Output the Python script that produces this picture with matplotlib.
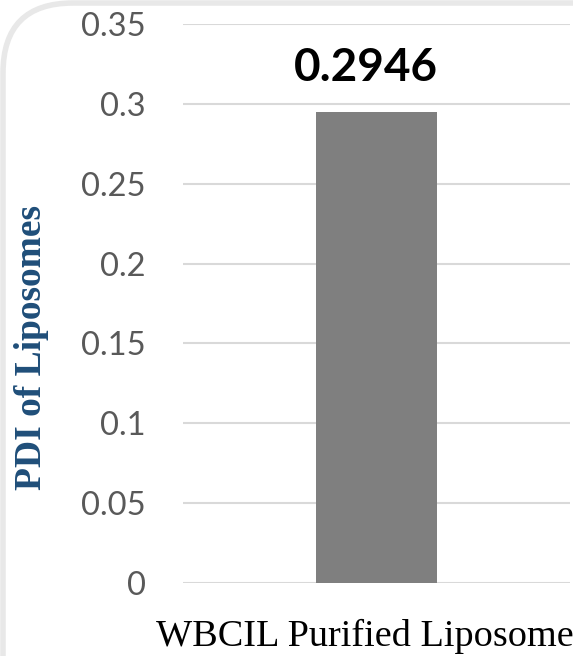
import matplotlib
matplotlib.use("Agg")
import matplotlib.pyplot as plt
import matplotlib.transforms as mtransforms
from matplotlib.patches import FancyBboxPatch

categories = ['WBCIL Purified Liposome']
pdi = [0.2946]
value_labels = ['0.2946']
yticks = [0, 0.05, 0.1, 0.15, 0.2, 0.25, 0.3, 0.35]
ytick_labels = ['0', '0.05', '0.1', '0.15', '0.2', '0.25', '0.3', '0.35']

fig = plt.figure(figsize=(5.73, 6.56), dpi=100)
ax = fig.add_axes([183 / 573, 73 / 656, 387 / 573, 559 / 656])

# rounded chart border (cropped on right / bottom like the screenshot)
frame = FancyBboxPatch((3, -100), 640, 753,
                       boxstyle="round,pad=0,rounding_size=70",
                       transform=mtransforms.IdentityTransform(), lw=4,
                       ec='#e8e8e8', fc='none', zorder=0)
fig.add_artist(frame)

x = list(range(len(categories)))
ax.bar(x, pdi, width=0.315, color='#7f7f7f', zorder=3)

# data label
for xi, v, lab in zip(x, pdi, value_labels):
    ax.annotate(lab, (xi, v), xytext=(-8, 23), textcoords='offset points',
                ha='center', va='baseline', fontsize=33, fontweight='bold',
                family='Lato', color='black')

ax.set_xlim(-0.5, 0.5)
ax.set_ylim(0, 0.35)
ax.set_yticks(yticks)
ax.set_yticklabels(ytick_labels, family='Lato', fontsize=23.5, color='#595959')
ax.set_xticks(x)
ax.set_xticklabels([''] * len(categories))

# category labels (drawn as text so they can sit a little left of centre)
trans = mtransforms.blended_transform_factory(ax.transData, ax.transAxes)
trans = trans + mtransforms.ScaledTranslation(-12 / 100, 0, fig.dpi_scale_trans)
for xi, cat in zip(x, categories):
    ax.text(xi, -0.1127, cat, transform=trans, ha='center', va='baseline',
            family='Liberation Serif', fontsize=27.5, color='black')

ax.tick_params(axis='y', length=0, pad=27)
ax.tick_params(axis='x', length=0)
ax.yaxis.grid(True, color='#d9d9d9', lw=1.5, zorder=0)
ax.set_axisbelow(True)
for s in ax.spines.values():
    s.set_visible(False)

fig.text(32 / 573, 1 - 348 / 656, 'PDI of Liposomes', rotation=90,
         ha='center', va='center', family='Liberation Serif',
         fontweight='bold', fontsize=27, color='#1f4e79')

fig.savefig('out.png', dpi=100)
